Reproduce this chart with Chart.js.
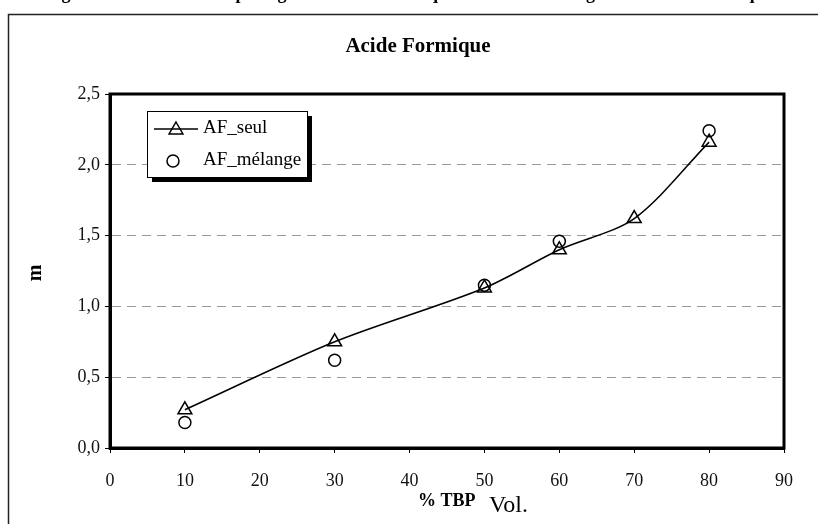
<!DOCTYPE html>
<html>
<head>
<meta charset="utf-8">
<script src="https://cdn.jsdelivr.net/npm/chart.js@4.4.1/dist/chart.umd.min.js"></script>
<style>
  body { margin: 0; background: #fff; }
  canvas { display: block; }
</style>
</head>
<body>
<canvas id="myChart" width="818" height="524"></canvas>
<script>
'use strict'

// % TBP (vol.) values
const tbpSeul = [10, 30, 50, 60, 70, 80];
const mSeul = [0.27, 0.75, 1.13, 1.40, 1.62, 2.16];

const tbpMelange = [10, 30, 50, 60, 80];
const mMelange = [0.18, 0.62, 1.15, 1.46, 2.24];

const xTicks = [0, 10, 20, 30, 40, 50, 60, 70, 80, 90];
const yTicks = [0, 0.5, 1.0, 1.5, 2.0, 2.5];

const chartTitle = 'Acide Formique';
const captionText = 'Figure 1 : Coefficient de partage de l\'Acide Formique Seul et en mélange avec l\'Acide Acétique';
const serif = '"Liberation Serif", "DejaVu Serif", serif';

function toPoints(xs, ys) {
  return xs.map((x, i) => ({x: x, y: ys[i]}));
}

// frame, title, axis titles and the boxed legend
const decorations = {
  id: 'decorations',
  beforeDraw(chart) {
    const ctx = chart.ctx;
    ctx.save();
    ctx.fillStyle = '#fff';
    ctx.fillRect(0, 0, chart.width, chart.height);
    // outer border of the figure
    ctx.strokeStyle = '#222';
    ctx.lineWidth = 1.5;
    ctx.strokeRect(8.5, 14.5, chart.width + 20, chart.height + 20);
    // cut caption at the very top, only the descenders show
    ctx.fillStyle = '#000';
    ctx.font = 'bold 18px ' + serif;
    ctx.textAlign = 'center';
    ctx.textBaseline = 'alphabetic';
    ctx.fillText(captionText, 409, -1);
    // title
    ctx.font = 'bold 21px ' + serif;
    ctx.textBaseline = 'middle';
    ctx.fillText(chartTitle, 418, 47);
    // y title
    ctx.save();
    ctx.translate(36, 273);
    ctx.rotate(-Math.PI / 2);
    ctx.font = 'bold 20px ' + serif;
    ctx.fillText('m', 0, 0);
    ctx.restore();
    // x title
    ctx.textAlign = 'left';
    ctx.textBaseline = 'alphabetic';
    ctx.font = 'bold 18px ' + serif;
    ctx.fillText('% TBP', 418, 506);
    ctx.font = '24px ' + serif;
    ctx.fillText('Vol.', 489, 512);
    ctx.restore();
  },
  afterDatasetsDraw(chart) {
    const ctx = chart.ctx;
    const a = chart.chartArea;
    ctx.save();
    ctx.strokeStyle = '#000';
    ctx.lineWidth = 3;
    ctx.strokeRect(a.left, a.top, a.right - a.left, a.bottom - a.top);

    // legend box with shadow
    const bx = 147, by = 111, bw = 160, bh = 66;
    ctx.fillStyle = '#000';
    ctx.fillRect(bx + 5, by + 5, bw, bh);
    ctx.fillStyle = '#fff';
    ctx.fillRect(bx, by, bw, bh);
    ctx.lineWidth = 1;
    ctx.strokeStyle = '#000';
    ctx.strokeRect(bx + 0.5, by + 0.5, bw, bh);

    const ds = chart.data.datasets;
    ctx.lineWidth = 1.5;
    // series 1: line + triangle
    ctx.beginPath();
    ctx.moveTo(154, 129);
    ctx.lineTo(198, 129);
    ctx.stroke();
    drawTriangle(ctx, 176, 130, 8);
    // series 2: circle
    ctx.beginPath();
    ctx.arc(173, 161, 6, 0, Math.PI * 2);
    ctx.stroke();

    ctx.fillStyle = '#000';
    ctx.font = '19px ' + serif;
    ctx.textAlign = 'left';
    ctx.textBaseline = 'middle';
    ctx.fillText(ds[0].label, 203, 128);
    ctx.fillText(ds[1].label, 203, 160);
    ctx.restore();
  }
};

function drawTriangle(ctx, x, y, r) {
  ctx.beginPath();
  ctx.moveTo(x, y - r);
  ctx.lineTo(x + r * 0.866, y + r * 0.5);
  ctx.lineTo(x - r * 0.866, y + r * 0.5);
  ctx.closePath();
  ctx.stroke();
}

const data = {
  datasets: [
    {
      label: 'AF_seul',
      data: toPoints(tbpSeul, mSeul),
      borderColor: '#000',
      borderWidth: 1.5,
      backgroundColor: 'rgba(0,0,0,0)',
      pointStyle: 'triangle',
      pointRadius: 8,
      pointBorderWidth: 1.5,
      pointBorderColor: '#000',
      pointBackgroundColor: 'rgba(0,0,0,0)',
      tension: 0.3,
      showLine: true,
    },
    {
      label: 'AF_mélange',
      data: toPoints(tbpMelange, mMelange),
      borderColor: '#000',
      backgroundColor: 'rgba(0,0,0,0)',
      pointStyle: 'circle',
      pointRadius: 6,
      pointBorderWidth: 1.5,
      pointBorderColor: '#000',
      pointBackgroundColor: 'rgba(0,0,0,0)',
      showLine: false,
    },
  ],
};

const config = {
  type: 'scatter',
  data: data,
  options: {
    responsive: false,
    devicePixelRatio: 1,
    animation: false,
    layout: { padding: { left: 0, top: 94, right: 34, bottom: 0 } },
    plugins: {
      legend: { display: false },
      title: { display: false },
      tooltip: { enabled: false },
    },
    scales: {
      x: {
        type: 'linear',
        min: 0,
        max: 90,
        afterBuildTicks: (scale) => { scale.ticks = xTicks.map(v => ({value: v})); },
        afterFit: (scale) => { scale.height = 76; },
        grid: { drawOnChartArea: false, drawTicks: true, tickLength: 5, tickColor: '#000', tickWidth: 1 },
        border: { display: true, color: '#000', width: 3 },
        ticks: { padding: 17, color: '#111', font: { family: serif, size: 18 }, maxRotation: 0 },
      },
      y: {
        min: 0,
        max: 2.5,
        afterBuildTicks: (scale) => { scale.ticks = yTicks.map(v => ({value: v})); },
        afterFit: (scale) => { scale.width = 110; },
        grid: { color: '#9a9a9a', lineWidth: 1, drawTicks: true, tickLength: 5, tickColor: '#000', tickWidth: 1 },
        border: { display: true, color: '#000', width: 3, dash: [9, 6] },
        ticks: {
          padding: 5,
          color: '#111',
          font: { family: serif, size: 18 },
          callback: (v) => Number(v).toFixed(1).replace('.', ','),
        },
      },
    },
  },
  plugins: [decorations],
};

const myChart = new Chart(document.getElementById('myChart'), config);
</script>
</body>
</html>
